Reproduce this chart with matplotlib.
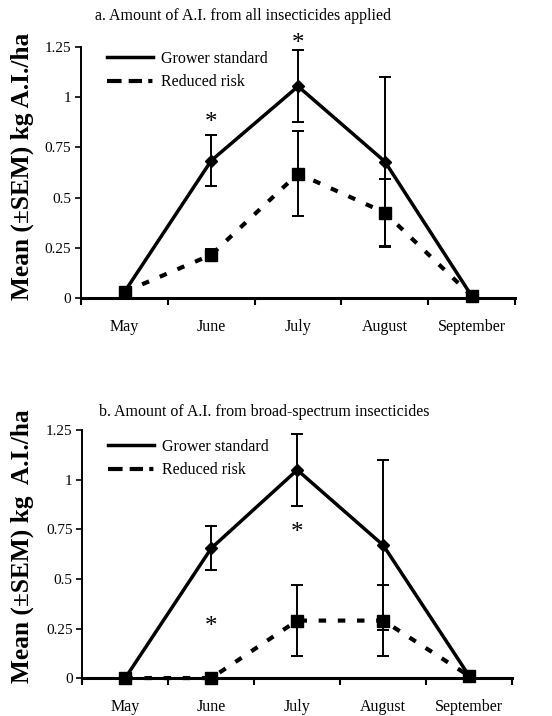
import matplotlib
matplotlib.use("Agg")
import matplotlib.pyplot as plt
from matplotlib.lines import Line2D
import numpy as np

months = ["May", "June", "July", "August", "September"]

# Panel a: all insecticides
a_grower = [0.03, 0.685, 1.055, 0.68, 0.01]
a_grower_err = [0.0, 0.125, 0.18, 0.42, 0.0]
a_reduced = [0.03, 0.215, 0.62, 0.425, 0.01]
a_reduced_err = [0.0, 0.03, 0.21, 0.17, 0.0]
a_star_x = [1, 2]
a_star_y = [0.87, 1.265]

# Panel b: broad-spectrum insecticides
b_grower = [0.0, 0.655, 1.05, 0.67, 0.01]
b_grower_err = [0.0, 0.11, 0.18, 0.43, 0.0]
b_reduced = [0.0, 0.0, 0.29, 0.29, 0.01]
b_reduced_err = [0.0, 0.0, 0.18, 0.18, 0.0]
b_star_x = [1, 2]
b_star_y = [0.26, 0.73]

yticks = [0, 0.25, 0.5, 0.75, 1, 1.25]
yticklabels = ["0", "0.25", "0.5", "0.75", "1", "1.25"]

titles = ["a. Amount of A.I. from all insecticides applied",
          "b. Amount of A.I. from broad-spectrum insecticides"]
ylabels = ["Mean (\u00b1SEM) kg A.I./ha", "Mean (\u00b1SEM) kg  A.I./ha"]
series_labels = ["Grower standard", "Reduced risk"]

plt.rcParams['font.family'] = ['Liberation Serif', 'DejaVu Serif']

fig = plt.figure(figsize=(5.52, 7.16), dpi=100)
ax_a = fig.add_axes([0.147, 0.584, 0.786, 0.350])
ax_b = fig.add_axes([0.149, 0.053, 0.779, 0.346])

panels = [
    (ax_a, a_grower, a_grower_err, a_reduced, a_reduced_err, a_star_x, a_star_y, 0.985),
    (ax_b, b_grower, b_grower_err, b_reduced, b_reduced_err, b_star_x, b_star_y, 0.965),
]

x = np.arange(len(months))
for i, (ax, g, ge, r, re_, sx, sy, legy) in enumerate(panels):
    ax.errorbar(x, g, yerr=ge, color='black', lw=2.5, marker='D', ms=6,
                capsize=4, elinewidth=1.4, capthick=1.4, ls='-',
                zorder=3, clip_on=False)
    ax.errorbar(x, r, yerr=re_, color='black', lw=3.0, marker='s', ms=8.5,
                capsize=4, elinewidth=1.4, capthick=1.4, ls=(0, (1.8, 2.8)),
                zorder=3, clip_on=False)
    for xx, yy in zip(sx, sy):
        ax.text(xx, yy, "*", ha='center', va='center', fontsize=18,
                clip_on=False)
    ax.set_xlim(-0.5, 4.5)
    ax.set_ylim(0, 1.25)
    ax.set_yticks(yticks)
    ax.set_yticklabels(yticklabels, fontsize=11)
    ax.set_xticks(np.arange(-0.5, 4.6, 1.0))
    ax.set_xticklabels([])
    ax.set_xticks(x, minor=True)
    ax.set_xticklabels(months, minor=True, fontsize=11.5)
    ax.tick_params(axis='x', which='minor', length=0, pad=15)
    ax.tick_params(axis='x', which='major', length=5, width=1.5, direction='out')
    ax.tick_params(axis='y', length=4, width=1.2, direction='out', pad=3)
    ax.spines['top'].set_visible(False)
    ax.spines['right'].set_visible(False)
    ax.spines['bottom'].set_linewidth(2.2)
    ax.spines['left'].set_linewidth(1.4)
    handles = [
        Line2D([0], [0], color='black', lw=2.5, ls='-'),
        Line2D([0], [0], color='black', lw=3.0,
               ls=(0, (3.5, 1.7, 3.2, 1.5, 1.0, 10))),
    ]
    ax.legend(handles, series_labels, loc='upper left', frameon=False,
              fontsize=11.5, handlelength=2.9, handletextpad=0.45,
              borderpad=0, borderaxespad=0, bbox_to_anchor=(0.06, legy),
              labelspacing=0.45)

fig.text(0.44, 0.978, titles[0], ha='center', va='center', fontsize=11.5)
fig.text(0.18, 0.424, titles[1], ha='left', va='center', fontsize=11.5)

fig.text(0.04, 0.767, ylabels[0], rotation=90, ha='center', va='center',
         fontsize=18.3, fontweight='bold')
fig.text(0.04, 0.237, ylabels[1], rotation=90, ha='center', va='center',
         fontsize=18.3, fontweight='bold')

fig.savefig("out.png", dpi=100)
